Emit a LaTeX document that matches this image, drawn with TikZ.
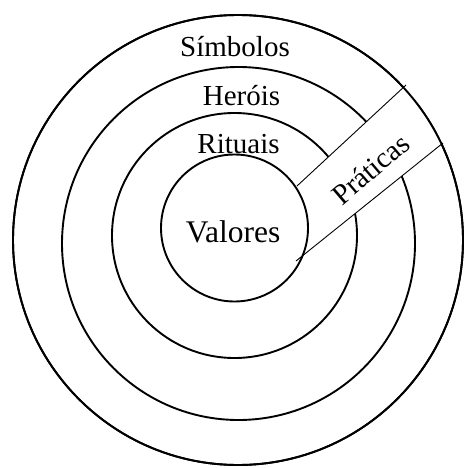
\documentclass[tikz,border=0pt]{standalone}
\usepackage{fontspec}
\setmainfont{Liberation Serif}
\begin{document}
\begin{tikzpicture}[x=1pt,y=-1pt,
  ring/.style={draw=black,line width=1.9pt},
  bandline/.style={draw=black,line width=0.9pt},
  lbl/.style={inner sep=0pt,font=\fontsize{29}{31}\selectfont}]
\useasboundingbox (0,0) rectangle (464,468);
% circles
\draw[ring] (238,240) circle[radius=225];
\draw[ring] (238.5,243.5) circle[radius=176.5];
\draw[ring] (234.5,235.5) circle[radius=122.5];
% band
\coordinate (a1) at (297,186);
\coordinate (a2) at (406,85);
\coordinate (b1) at (296,261);
\coordinate (b2) at (443,143);
\fill[white] (a1) -- (a2) -- (b2) -- (b1) -- cycle;
\draw[ring] (238,240) circle[radius=225];
\draw[ring,fill=white] (234.5,228) circle[radius=73.5];
\draw[bandline] (a1) -- (a2);
\draw[bandline] (b1) -- (b2);
% labels
\node[lbl,anchor=base] (simb) at (235,57) {Símbolos};
\node[lbl,anchor=base] (hero) at (241.5,106) {Heróis};
\node[lbl,anchor=base] (ritu) at (238.5,153) {Rituais};
\node[lbl,anchor=base,font=\fontsize{31.5}{33}\selectfont] (valo) at (233,242) {Valores};
\node[lbl,rotate=40.5] (prat) at (370.5,169) {Práticas};
\end{tikzpicture}
\end{document}
